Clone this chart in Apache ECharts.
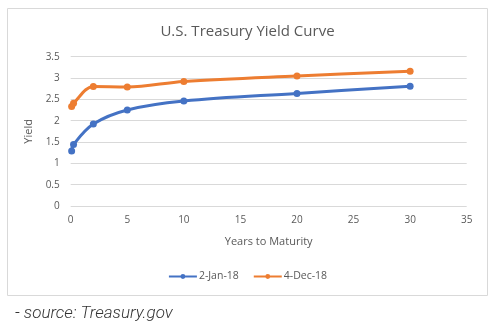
<!DOCTYPE html>
<html><head><meta charset="utf-8">
<script src="https://cdn.jsdelivr.net/npm/echarts@6/dist/echarts.min.js"></script>
<style>html,body{margin:0;padding:0;background:#fff}#c{width:495px;height:331px}</style>
</head><body><div id="c"></div>
<script>
const maturities = [1/12, 0.25, 2, 5, 10, 20, 30];
const jan2018 = [1.29, 1.44, 1.92, 2.25, 2.46, 2.64, 2.81];
const dec2018 = [2.33, 2.41, 2.80, 2.79, 2.92, 3.05, 3.16];
const seriesNames = ['2-Jan-18', '4-Dec-18'];
const chartTitle = 'U.S. Treasury Yield Curve';
const xTitle = 'Years to Maturity';
const yTitle = 'Yield';
const sourceNote = '- source: Treasury.gov';

const pairs = arr => maturities.map((m, i) => [m, arr[i]]);
const txt = '#595959', grid = '#d9d9d9';
const chart = echarts.init(document.getElementById('c'));
chart.setOption({
  animation: false,
  title: { text: chartTitle, left: 'center', top: 19, textStyle: { fontFamily: 'Open Sans', fontSize: 15, fontWeight: 'normal', color: txt } },
  legend: {
    bottom: 44, left: 'center', itemWidth: 28, itemHeight: 6, itemGap: 14,
    textStyle: { fontFamily: 'Open Sans', fontSize: 10.5, color: txt, padding: [0,0,0,-3] },
    data: seriesNames
  },
  grid: { left: 70.7, right: 28.3, top: 56.7, bottom: 125 },
  xAxis: {
    type: 'value', min: 0, max: 35, interval: 5,
    name: xTitle, nameLocation: 'middle', nameGap: 30,
    nameTextStyle: { fontFamily: 'Open Sans', fontSize: 11, color: txt },
    axisLine: { show: false }, axisTick: { show: false }, splitLine: { show: false },
    axisLabel: { fontFamily: 'Open Sans', fontSize: 10, color: txt, margin: 9 }
  },
  yAxis: {
    type: 'value', min: 0, max: 3.5, interval: 0.5,
    name: yTitle, nameLocation: 'middle', nameGap: 27,
    nameTextStyle: { fontFamily: 'Open Sans', fontSize: 11, color: txt },
    axisLine: { show: false }, axisTick: { show: false },
    splitLine: { lineStyle: { color: grid, width: 1 } },
    axisLabel: { fontFamily: 'Open Sans', fontSize: 10, color: txt, margin: 11 }
  },
  series: [
    { name: seriesNames[0], type: 'line', data: pairs(jan2018), smooth: 0.35, symbol: 'circle', symbolSize: 7,
      lineStyle: { width: 3, color: '#4472C4' }, itemStyle: { color: '#4472C4' } },
    { name: seriesNames[1], type: 'line', data: pairs(dec2018), smooth: 0.35, symbol: 'circle', symbolSize: 7,
      lineStyle: { width: 3, color: '#ED7D31' }, itemStyle: { color: '#ED7D31' } }
  ],
  graphic: [
    { type: 'rect', shape: { x: 7.5, y: 8.5, width: 480, height: 287 }, style: { fill: 'none', stroke: '#d9d9d9', lineWidth: 1 }, z: -1 },
    { type: 'text', left: 15, top: 305, style: { text: sourceNote, fontFamily: 'Roboto', fontStyle: 'italic', fontWeight: 300, fontSize: 17, fill: '#333' } }
  ]
});
</script></body></html>
